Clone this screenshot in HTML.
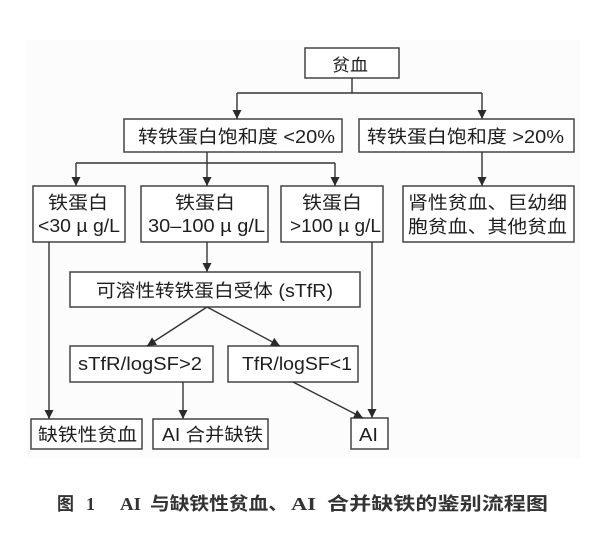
<!DOCTYPE html>
<html>
<head>
<meta charset="utf-8">
<style>
  html,body{margin:0;padding:0;background:#fff;}
  body{width:600px;height:541px;overflow:hidden;}
  svg{display:block;}
  .t{font-family:"Liberation Sans","Noto Sans CJK SC",sans-serif;font-size:18px;fill:#1e1e1e;}
  .cap{font-family:"Liberation Serif","Noto Sans CJK SC",serif;font-size:18px;font-weight:bold;fill:#333;}
  .capc{font-family:"Liberation Sans","Noto Sans CJK SC",sans-serif;font-size:18px;font-weight:bold;fill:#333;}
</style>
</head>
<body>
<svg width="600" height="541" viewBox="0 0 600 541" xmlns="http://www.w3.org/2000/svg">
  <defs>
    <marker id="ah" viewBox="0 0 10 10" refX="10" refY="5" markerWidth="9" markerHeight="9" markerUnits="userSpaceOnUse" orient="auto">
      <path d="M0,0 L10,5 L0,10 z" fill="#2a2a2a"/>
    </marker>
  </defs>
  <rect x="27" y="40" width="553" height="418" fill="#fcfcfc"/>

  <g fill="#fff" stroke="#444" stroke-width="1.5">
    <rect x="305" y="48" width="94" height="30"/>
    <rect x="124" y="119" width="218" height="33"/>
    <rect x="359" y="119" width="215" height="33"/>
    <rect x="33" y="186" width="92" height="56"/>
    <rect x="141" y="186" width="127" height="56"/>
    <rect x="281" y="186" width="102" height="56"/>
    <rect x="403" y="186" width="171" height="56"/>
    <rect x="70" y="272" width="290" height="35"/>
    <rect x="70" y="346" width="143" height="36"/>
    <rect x="228" y="346" width="130" height="36"/>
    <rect x="31" y="419" width="111" height="30"/>
    <rect x="153" y="419" width="115" height="30"/>
    <rect x="351" y="418" width="37" height="31"/>
  </g>

  <g stroke="#333" stroke-width="1.4" fill="none">
    <line x1="352" y1="78" x2="352" y2="93"/>
    <line x1="237" y1="93" x2="482" y2="93"/>
    <line x1="237" y1="93" x2="237" y2="119" marker-end="url(#ah)"/>
    <line x1="482" y1="93" x2="482" y2="119" marker-end="url(#ah)"/>
    <line x1="207" y1="152" x2="207" y2="163"/>
    <line x1="76" y1="163" x2="335" y2="163"/>
    <line x1="76" y1="163" x2="76" y2="186" marker-end="url(#ah)"/>
    <line x1="207" y1="163" x2="207" y2="186" marker-end="url(#ah)"/>
    <line x1="335" y1="163" x2="335" y2="186" marker-end="url(#ah)"/>
    <line x1="482" y1="152" x2="482" y2="186" marker-end="url(#ah)"/>
    <line x1="49" y1="242" x2="49" y2="419" marker-end="url(#ah)"/>
    <line x1="207" y1="242" x2="207" y2="272" marker-end="url(#ah)"/>
    <line x1="372" y1="242" x2="372" y2="418" marker-end="url(#ah)"/>
    <line x1="207" y1="307" x2="147" y2="346" marker-end="url(#ah)"/>
    <line x1="207" y1="307" x2="280" y2="346" marker-end="url(#ah)"/>
    <line x1="183" y1="382" x2="183" y2="419" marker-end="url(#ah)"/>
    <line x1="293" y1="382" x2="363" y2="418" marker-end="url(#ah)"/>
  </g>

  <g class="t">
    <text x="332" y="71" textLength="36" lengthAdjust="spacingAndGlyphs" font-size="17">贫血</text>
    <text x="138" y="143" textLength="197" lengthAdjust="spacingAndGlyphs">转铁蛋白饱和度 &lt;20%</text>
    <text x="367" y="143" textLength="197" lengthAdjust="spacingAndGlyphs">转铁蛋白饱和度 &gt;20%</text>

    <text x="48" y="209" textLength="60" lengthAdjust="spacingAndGlyphs">铁蛋白</text>
    <text x="38" y="232" textLength="82" lengthAdjust="spacingAndGlyphs">&lt;30 µ g/L</text>
    <text x="175" y="209" textLength="60" lengthAdjust="spacingAndGlyphs">铁蛋白</text>
    <text x="148" y="232" textLength="117" lengthAdjust="spacingAndGlyphs">30–100 µ g/L</text>
    <text x="302" y="209" textLength="60" lengthAdjust="spacingAndGlyphs">铁蛋白</text>
    <text x="290" y="232" textLength="91" lengthAdjust="spacingAndGlyphs">&gt;100 µ g/L</text>
    <text x="408" y="209" textLength="159" lengthAdjust="spacingAndGlyphs">肾性贫血、巨幼细</text>
    <text x="408" y="233" textLength="159" lengthAdjust="spacingAndGlyphs">胞贫血、其他贫血</text>

    <text x="96" y="297" textLength="237" lengthAdjust="spacingAndGlyphs">可溶性转铁蛋白受体 (sTfR)</text>
    <text x="78" y="370" textLength="124" lengthAdjust="spacingAndGlyphs">sTfR/logSF&gt;2</text>
    <text x="242" y="370" textLength="110" lengthAdjust="spacingAndGlyphs">TfR/logSF&lt;1</text>

    <text x="38" y="441" textLength="99" lengthAdjust="spacingAndGlyphs">缺铁性贫血</text>
    <text x="162" y="441" textLength="101" lengthAdjust="spacingAndGlyphs">AI 合并缺铁</text>
    <text x="359" y="441" textLength="19" lengthAdjust="spacingAndGlyphs">AI</text>
  </g>

  <text class="capc" x="57" y="510" textLength="17" lengthAdjust="spacingAndGlyphs">图</text>
  <text class="cap" x="86" y="510">1</text>
  <text class="cap" x="120" y="510" textLength="21" lengthAdjust="spacingAndGlyphs">AI</text>
  <text class="capc" x="150" y="510" textLength="138" lengthAdjust="spacingAndGlyphs">与缺铁性贫血、</text>
  <text class="cap" x="291" y="510" textLength="25" lengthAdjust="spacingAndGlyphs">AI</text>
  <text class="capc" x="327" y="510" textLength="221" lengthAdjust="spacingAndGlyphs">合并缺铁的鉴别流程图</text>
</svg>
</body>
</html>
